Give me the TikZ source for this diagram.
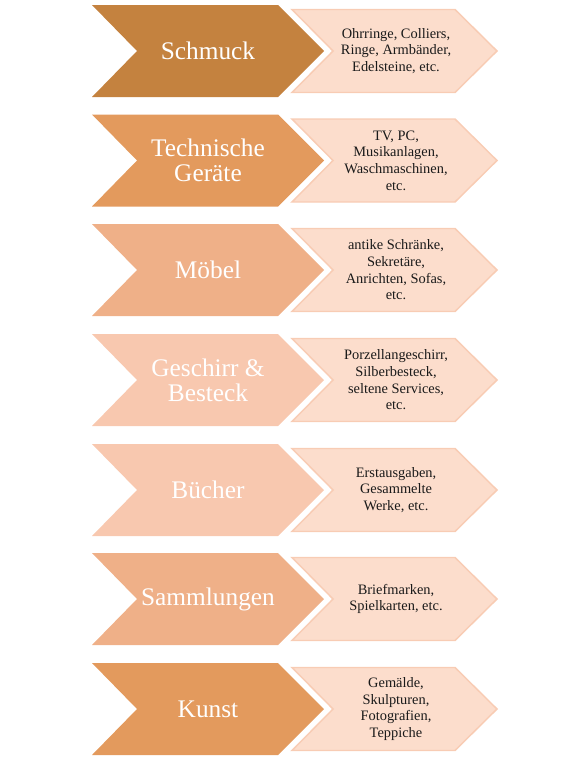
\documentclass[tikz,border=0pt]{standalone}
\usepackage{fontspec}
\setmainfont{Liberation Serif}
\usepackage{tikz}
\usepackage{xcolor}
\definecolor{catBrown}{HTML}{C4823F}
\definecolor{catOrange}{HTML}{E39A5D}
\definecolor{catApricot}{HTML}{EFB088}
\definecolor{catPeach}{HTML}{F8C8AF}
\definecolor{detFill}{HTML}{FCDDCC}
\definecolor{detLine}{HTML}{F8CCB4}
\definecolor{detText}{HTML}{1A1A1A}

\begin{document}
\begin{tikzpicture}[x=0.75pt,y=-0.75pt]
\useasboundingbox (0,0) rectangle (582,760);
\newcommand{\catrow}[5]{%
  \fill[#2] (92,#1-46) -- (278,#1-46) -- (324,#1) -- (278,#1+46) -- (92,#1+46) -- (137,#1) -- cycle;
  \filldraw[fill=detFill,draw=detLine,line width=1.1pt] (292,#1-41.5) -- (455,#1-41.5) -- (497,#1) -- (455,#1+41.5) -- (292,#1+41.5) -- (333,#1) -- cycle;
  \node[font=\fontsize{19}{18.8}\selectfont,text=white,align=center] (#3) at (208,#1) {#4};
  \node[font=\fontsize{10.8}{12.5}\selectfont,text=detText,align=center] (#3-det) at (396,#1) {#5};
}

\catrow{51}{catBrown}{schmuck}{Schmuck}{Ohrringe, Colliers,\\Ringe, Armbänder,\\Edelsteine, etc.}
\catrow{160.5}{catOrange}{technik}{Technische\\Geräte}{TV, PC,\\Musikanlagen,\\Waschmaschinen,\\etc.}
\catrow{270}{catApricot}{moebel}{Möbel}{antike Schränke,\\Sekretäre,\\Anrichten, Sofas,\\etc.}
\catrow{380}{catPeach}{geschirr}{Geschirr \&\\Besteck}{Porzellangeschirr,\\Silberbesteck,\\seltene Services,\\etc.}
\catrow{490}{catPeach}{buecher}{Bücher}{Erstausgaben,\\Gesammelte\\Werke, etc.}
\catrow{599}{catApricot}{sammlung}{Sammlungen}{Briefmarken,\\Spielkarten, etc.}
\catrow{709}{catOrange}{kunst}{Kunst}{Gemälde,\\Skulpturen,\\Fotografien,\\Teppiche}
\end{tikzpicture}
\end{document}
